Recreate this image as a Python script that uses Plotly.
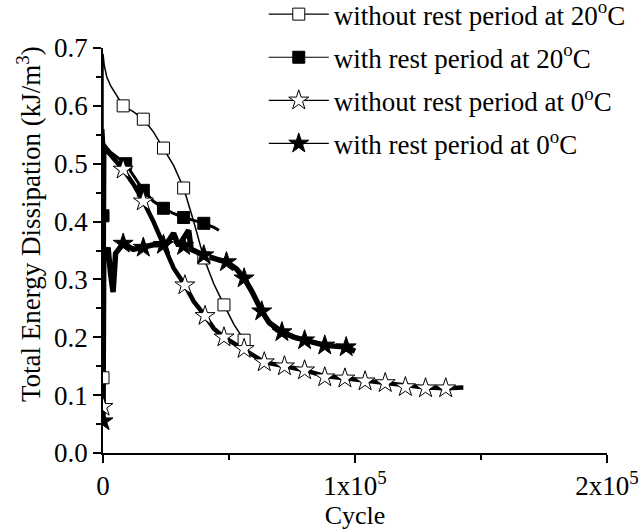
import plotly.graph_objects as go

# ---------------- data ----------------
# without rest period at 20 °C (open squares)
a_line_x = [0, 0, 500, 1500, 3000, 5000, 8000, 12000, 16000, 20000, 24000, 28000, 32000,
            36000, 40000, 44000, 48000, 52000, 56000, 57500]
a_line_y = [0.13, 0.69, 0.67, 0.65, 0.635, 0.62, 0.60, 0.59, 0.577, 0.555, 0.527, 0.497,
            0.458, 0.40, 0.337, 0.292, 0.256, 0.222, 0.195, 0.186]
a_mark_x = [0, 8000, 16000, 24000, 32000, 40000, 48000, 56000]
a_mark_y = [0.13, 0.60, 0.577, 0.527, 0.458, 0.337, 0.256, 0.195]

# with rest period at 20 °C (filled squares)
b_line_x = [0, 0, 300, 1000, 3000, 6000, 9000, 12000, 16000, 20000, 24000, 28000, 32000,
            36000, 40000, 44000, 46000]
b_line_y = [0.41, 0.56, 0.535, 0.53, 0.52, 0.51, 0.50, 0.48, 0.454, 0.435, 0.423, 0.414,
            0.407, 0.402, 0.397, 0.39, 0.385]
b_mark_x = [0, 9000, 16000, 24000, 32000, 40000]
b_mark_y = [0.41, 0.50, 0.454, 0.423, 0.407, 0.397]

# without rest period at 0 °C (open stars)
c_line_x = [0, 500, 2000, 4000, 8000, 12000, 16000, 20000, 24000, 28000, 32500, 36000,
            40500, 44000, 48000, 52000, 56000, 60000, 64000, 72000, 80000, 88000, 96000,
            104000, 112000, 120000, 128000, 136000, 143000]
c_line_y = [0.08, 0.53, 0.52, 0.51, 0.49, 0.465, 0.435, 0.40, 0.36, 0.32, 0.29, 0.262,
            0.237, 0.215, 0.200, 0.19, 0.18, 0.168, 0.157, 0.150, 0.143, 0.133, 0.129,
            0.124, 0.121, 0.116, 0.113, 0.112, 0.113]
c_mark_x = [0, 8000, 16000, 32500, 40500, 48000, 56000, 64000, 72000, 80000, 88000,
            96000, 104000, 112000, 120000, 128000, 136000]
c_mark_y = [0.08, 0.49, 0.435, 0.29, 0.237, 0.200, 0.18, 0.157, 0.150, 0.143, 0.131,
            0.129, 0.124, 0.121, 0.114, 0.112, 0.112]

# with rest period at 0 °C (filled stars)
d_line_x = [0, 300, 1000, 2000, 3000, 4000, 5000, 6000, 8000, 12000, 16000, 20000, 25000,
            28000, 30000, 34000, 35000, 40000, 45000, 49000, 53000, 56000, 59000, 61000,
            63000, 66000, 71000, 76000, 80000, 88000, 96500, 100000]
d_line_y = [0.055, 0.35, 0.34, 0.355, 0.31, 0.278, 0.345, 0.35, 0.362, 0.352, 0.355, 0.36,
            0.36, 0.38, 0.358, 0.385, 0.352, 0.342, 0.335, 0.33, 0.318, 0.302, 0.28, 0.26,
            0.245, 0.225, 0.209, 0.2, 0.195, 0.186, 0.183, 0.176]
d_mark_x = [0, 8000, 16000, 24000, 32000, 40000, 49000, 56000, 63000, 71000, 80000,
            88000, 96500]
d_mark_y = [0.055, 0.362, 0.355, 0.36, 0.358, 0.342, 0.33, 0.302, 0.245, 0.209, 0.195,
            0.186, 0.183]

series_names = ["without rest period at 20<sup>o</sup>C",
                "with rest period at 20<sup>o</sup>C",
                "without rest period at 0<sup>o</sup>C",
                "with rest period at 0<sup>o</sup>C"]

x_tickvals = [0, 100000, 200000]
x_ticktext = ["0", "1x10<sup>5</sup>", "2x10<sup>5</sup>"]
y_tickvals = [0.0, 0.1, 0.2, 0.3, 0.4, 0.5, 0.6, 0.7]
y_ticktext = ["0.0", "0.1", "0.2", "0.3", "0.4", "0.5", "0.6", "0.7"]

# ---------------- figure ----------------
FONT = "Liberation Serif, Times New Roman, serif"
fig = go.Figure()

specs = [
    (a_line_x, a_line_y, a_mark_x, a_mark_y, 1.5, "square", "white", 12),
    (b_line_x, b_line_y, b_mark_x, b_mark_y, 3, "square", "black", 12),
    (c_line_x, c_line_y, c_mark_x, c_mark_y, 4.5, "star", "white", 15),
    (d_line_x, d_line_y, d_mark_x, d_mark_y, 5.5, "star", "black", 15),
]

for i, (lx, ly, mx, my, lw, sym, fill, ms) in enumerate(specs):
    fig.add_trace(go.Scatter(x=lx, y=ly, mode="lines", line=dict(color="black", width=lw),
                             showlegend=False, hoverinfo="skip"))
for i, (lx, ly, mx, my, lw, sym, fill, ms) in enumerate(specs):
    fig.add_trace(go.Scatter(x=mx, y=my, mode="markers",
                             marker=dict(symbol=sym, size=ms, color=fill,
                                         line=dict(color="black", width=1)),
                             showlegend=False))
for i, (lx, ly, mx, my, lw, sym, fill, ms) in enumerate(specs):
    fig.add_trace(go.Scatter(x=[None], y=[None], mode="lines+markers", name=series_names[i],
                             legendgroup=f"g{i}",
                             line=dict(color="black", width=1.2),
                             marker=dict(symbol=sym, size=ms, color=fill,
                                         line=dict(color="black", width=1))))

axis_common = dict(
    showline=True, linecolor="black", linewidth=1.5, mirror=False,
    ticks="outside", ticklen=8, tickwidth=1.5, tickcolor="black",
    showgrid=False, zeroline=False,
    tickfont=dict(family=FONT, size=27, color="black"),
)

fig.update_xaxes(range=[0, 200000], tickvals=x_tickvals, ticktext=x_ticktext,
                 title=dict(text="Cycle", font=dict(family=FONT, size=26, color="black"),
                            standoff=0),
                 minor=dict(tickvals=[50000, 150000], ticks="outside", ticklen=5,
                            tickwidth=1.5, tickcolor="black"),
                 **axis_common)
fig.update_yaxes(range=[0, 0.7], tickvals=y_tickvals, ticktext=y_ticktext,
                 minor=dict(tickvals=[0.05, 0.15, 0.25, 0.35, 0.45, 0.55, 0.65],
                            ticks="outside", ticklen=5, tickwidth=1.5, tickcolor="black"),
                 **axis_common)

fig.add_annotation(text="Total Energy Dissipation (kJ/m<sup>3</sup>)",
                   xref="paper", yref="paper", x=-0.147, y=0.565,
                   xanchor="center", yanchor="middle", textangle=-90, showarrow=False,
                   font=dict(family=FONT, size=27, color="black"))

fig.update_layout(
    width=641, height=532,
    margin=dict(l=103, r=34, t=48, b=79, autoexpand=False),
    paper_bgcolor="white", plot_bgcolor="white",
    font=dict(family=FONT, size=27, color="black"),
    legend=dict(x=0.319, y=1.143, xanchor="left", yanchor="top",
                bgcolor="rgba(0,0,0,0)", font=dict(family=FONT, size=27, color="black"),
                tracegroupgap=5, itemwidth=60),
    showlegend=True,
)

fig.write_html("out.html")
